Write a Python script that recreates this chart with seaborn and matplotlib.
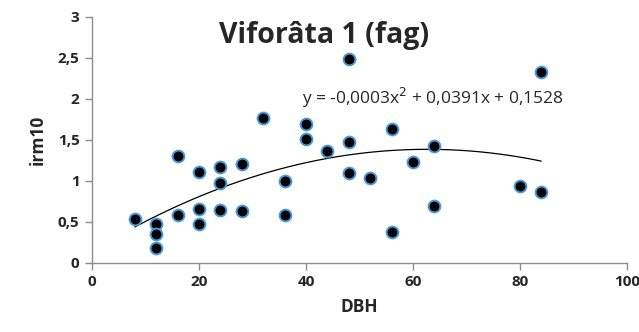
import matplotlib
matplotlib.use('Agg')
import matplotlib.pyplot as plt
import seaborn as sns
import pandas as pd

# values
dbh = [8, 12, 12, 12, 16, 16, 20, 20, 20, 24, 24, 24, 28, 28, 32, 36, 36,
       40, 40, 44, 48, 48, 48, 52, 56, 56, 60, 64, 64, 80, 84, 84]
irm10 = [0.53, 0.47, 0.35, 0.18, 1.31, 0.58, 1.11, 0.66, 0.47, 1.17, 0.98, 0.64,
         1.21, 0.63, 1.77, 1.00, 0.59, 1.69, 1.51, 1.36, 2.49, 1.48, 1.10,
         1.03, 1.63, 0.38, 1.23, 1.42, 0.70, 0.94, 2.33, 0.87]
x_ticks = [0, 20, 40, 60, 80, 100]
y_ticks = [0, 0.5, 1, 1.5, 2, 2.5, 3]
y_labels = ['0', '0,5', '1', '1,5', '2', '2,5', '3']

df = pd.DataFrame({'DBH': dbh, 'irm10': irm10})

sns.set_style('white')
plt.rcParams['font.family'] = ['Open Sans', 'DejaVu Sans']

fig = plt.figure(figsize=(6.39, 3.32), dpi=100)
ax = fig.add_axes([0.144, 0.208, 0.837, 0.741])

# second order trendline (like excel)
sns.regplot(data=df, x='DBH', y='irm10', order=2, ci=None, scatter=False,
            line_kws={'color': 'black', 'lw': 0.9}, ax=ax)
sns.scatterplot(data=df, x='DBH', y='irm10', color='black', edgecolor='#4a9ad8',
                linewidth=1.4, s=72, ax=ax, zorder=3)

ax.set_xlim(0, 100)
ax.set_ylim(0, 3)
ax.set_xticks(x_ticks)
ax.set_yticks(y_ticks)
ax.set_yticklabels(y_labels)
for lab in ax.get_xticklabels() + ax.get_yticklabels():
    lab.set_fontweight('bold')
    lab.set_fontsize(11)

sns.despine(ax=ax)
for s in ['left', 'bottom']:
    ax.spines[s].set_color('#8c8c8c')
    ax.spines[s].set_linewidth(1)
ax.tick_params(axis='both', which='major', length=5, width=1, color='#8c8c8c',
               direction='out', left=True, bottom=True, pad=4)

ax.set_xlabel('DBH', fontweight='bold', fontsize=12.5, labelpad=6)
ax.set_ylabel('irm10', fontweight='bold', fontsize=12.5, labelpad=8)

ax.text(0.434, 0.925, 'Viforâta 1 (fag)', transform=ax.transAxes, ha='center',
        va='center', fontsize=20.5, fontweight='bold')
ax.text(0.637, 0.67, 'y = -0,0003x$^2$ + 0,0391x + 0,1528', transform=ax.transAxes,
        ha='center', va='center', fontsize=12.5)

plt.savefig('out.png', dpi=100)
